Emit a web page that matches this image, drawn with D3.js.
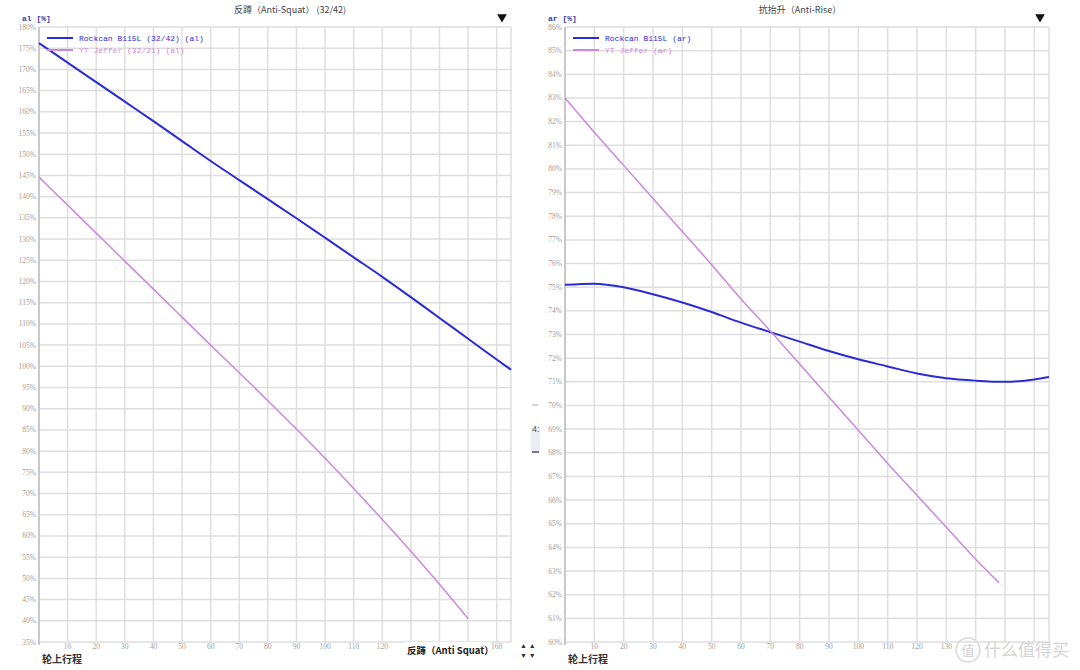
<!DOCTYPE html>
<html>
<head>
<meta charset="utf-8">
<script src="https://cdn.jsdelivr.net/npm/d3@7"></script>
<style>
  body { margin: 0; background: #fff; }
  svg { display: block; }
</style>
</head>
<body>
<div id="chart"></div>
<script>
// wheel travel (mm)
const travelRockcan = [0, 10, 20, 30, 40, 50, 60, 70, 80, 90, 100, 110, 120, 130, 140, 150, 160, 165];
const travelJefferAl = [0, 10, 20, 30, 40, 50, 60, 70, 80, 90, 100, 110, 120, 130, 140, 150];
const travelJefferAr = [0, 10, 20, 30, 40, 50, 60, 70, 80, 90, 100, 110, 120, 130, 140, 148];

// anti-squat (%)
const alRockcan = [176.2, 171.6, 167.0, 162.4, 157.8, 153.1, 148.4, 143.9, 139.4, 134.9, 130.3, 125.7, 121.1, 116.3, 111.4, 106.5, 101.6, 99.2];
const alJeffer = [144.6, 138.0, 131.4, 124.8, 118.2, 111.6, 105.0, 98.5, 91.9, 85.2, 78.3, 71.2, 63.9, 56.4, 48.6, 40.5];

// anti-rise (%)
const arRockcan = [75.1, 75.15, 75.0, 74.7, 74.35, 73.95, 73.5, 73.1, 72.7, 72.3, 71.95, 71.65, 71.35, 71.15, 71.05, 71.0, 71.1, 71.2];
const arJeffer = [83.0, 81.55, 80.15, 78.75, 77.35, 75.95, 74.5, 73.15, 71.75, 70.35, 68.95, 67.55, 66.2, 64.85, 63.5, 62.5];

const xTicks = d3.range(10, 161, 10);
const alTicks = d3.range(35, 181, 5);
const arTicks = d3.range(60, 87, 1);

const W = 1080, H = 670;
const blue = "#2b2bd6", pink = "#cc88dd";

const svg = d3.select("#chart").append("svg")
    .attr("width", W)
    .attr("height", H);

function drawPanel(p) {
    const x = d3.scaleLinear().domain([0, 165]).range([p.left, p.right]);
    const y = d3.scaleLinear().domain(p.yDomain).range([642, 27]);
    const g = svg.append("g");

    // grid
    g.selectAll(".hg").data(p.yTicks).enter().append("line")
        .attr("x1", p.left).attr("x2", p.right)
        .attr("y1", d => y(d)).attr("y2", d => y(d))
        .attr("stroke", "#dedede").attr("stroke-width", 1.5);
    g.selectAll(".vg").data(xTicks.concat([165])).enter().append("line")
        .attr("x1", d => x(d)).attr("x2", d => x(d))
        .attr("y1", 27).attr("y2", 642)
        .attr("stroke", "#dedede").attr("stroke-width", 1.5);
    g.append("line")
        .attr("x1", p.left).attr("x2", p.left).attr("y1", 27).attr("y2", 645)
        .attr("stroke", "#c8c8c8").attr("stroke-width", 2);

    // y tick labels
    g.selectAll(".yl").data(p.yTicks).enter().append("text")
        .attr("x", p.left - 3).attr("y", d => y(d) + 2.5)
        .attr("text-anchor", "end")
        .attr("font-family", "Liberation Serif").attr("font-size", 7.5)
        .attr("fill", "#a0a0a0")
        .text(d => d + "%");
    // x tick labels (some are covered in the original)
    g.selectAll(".xl").data(xTicks.filter(d => !p.hideX.includes(d))).enter().append("text")
        .attr("x", d => x(d)).attr("y", 649)
        .attr("text-anchor", "middle")
        .attr("font-family", "Liberation Serif").attr("font-size", 7.5)
        .attr("fill", "#a0a0a0")
        .text(d => d);

    const line = d3.line().curve(d3.curveMonotoneX).x(d => x(d[0])).y(d => y(d[1]));
    p.series.forEach(s => {
        g.append("path")
            .datum(d3.zip(s.x, s.y))
            .attr("fill", "none")
            .attr("stroke", s.color)
            .attr("stroke-width", s.width)
            .attr("d", line);
    });

    // legend
    p.series.forEach((s, i) => {
        const ly = 38 + i * 12;
        g.append("line")
            .attr("x1", p.left + 8).attr("x2", p.left + 34)
            .attr("y1", ly).attr("y2", ly)
            .attr("stroke", s.color).attr("stroke-width", 2);
        g.append("text")
            .attr("x", p.left + 40).attr("y", ly + 3)
            .attr("font-family", "Liberation Mono").attr("font-size", 8)
            .attr("fill", s.color)
            .text(s.name);
    });

    // titles
    g.append("text")
        .attr("x", p.titleX).attr("y", 13)
        .attr("text-anchor", "middle")
        .attr("font-family", "Noto Sans CJK SC").attr("font-size", 9)
        .attr("fill", "#444")
        .text(p.title);
    g.append("text")
        .attr("x", p.left - 17).attr("y", 21)
        .attr("font-family", "Liberation Mono").attr("font-size", 8)
        .attr("font-weight", "bold")
        .attr("fill", "#3a3a9a")
        .text(p.yLabel);
    g.append("path")
        .attr("d", d3.symbol(d3.symbolTriangle, 40)())
        .attr("transform", `translate(${p.right - 9},17) rotate(180)`)
        .attr("fill", "#111");
    g.append("text")
        .attr("x", p.left + 3).attr("y", 663)
        .attr("font-family", "Noto Sans CJK SC").attr("font-size", 10)
        .attr("font-weight", "bold")
        .attr("fill", "#333")
        .text("轮上行程");
}

drawPanel({
    left: 39, right: 511, yDomain: [35, 180], yTicks: alTicks, hideX: [130, 140, 150],
    title: "反蹲（Anti-Squat） (32/42)", titleX: 290, yLabel: "al [%]",
    series: [
        { name: "Rockcan B115L (32/42) (al)", x: travelRockcan, y: alRockcan, color: blue, width: 2 },
        { name: "YT Jeffer (32/21) (al)", x: travelJefferAl, y: alJeffer, color: pink, width: 1.5 }
    ]
});

drawPanel({
    left: 565, right: 1049, yDomain: [60, 86], yTicks: arTicks, hideX: [140, 150, 160],
    title: "抗抬升（Anti-Rise）", titleX: 800, yLabel: "ar [%]",
    series: [
        { name: "Rockcan B115L (ar)", x: travelRockcan, y: arRockcan, color: blue, width: 2 },
        { name: "YT Jeffer (ar)", x: travelJefferAr, y: arJeffer, color: pink, width: 1.5 }
    ]
});

// x axis caption on the left panel
svg.append("rect").attr("x", 405).attr("y", 642).attr("width", 86).attr("height", 15).attr("fill", "#fff");
svg.append("text")
    .attr("x", 407).attr("y", 654)
    .attr("font-family", "Noto Sans CJK SC").attr("font-size", 9.5)
    .attr("font-weight", "bold")
    .attr("fill", "#222")
    .text("反蹲（Anti Squat）");
svg.append("text").attr("x", 520).attr("y", 648)
    .attr("font-size", 7).attr("fill", "#333").text("▲ ▲");
svg.append("text").attr("x", 520).attr("y", 658)
    .attr("font-size", 7).attr("fill", "#333").text("▼ ▼");

// scroll-bar remnant between panels
svg.append("line").attr("x1", 532).attr("x2", 538).attr("y1", 405).attr("y2", 405).attr("stroke", "#aaa");
svg.append("rect").attr("x", 531).attr("y", 428).attr("width", 9).attr("height", 25).attr("fill", "#ececf6");
svg.append("text").attr("x", 532).attr("y", 432).attr("font-family", "Liberation Sans")
    .attr("font-size", 9).attr("fill", "#555").text("4:");
svg.append("line").attr("x1", 532).attr("x2", 539).attr("y1", 452).attr("y2", 452).attr("stroke", "#555").attr("stroke-width", 1.5);

// watermark
svg.append("circle").attr("cx", 968).attr("cy", 650).attr("r", 12)
    .attr("fill", "none").attr("stroke", "#d8d8d8").attr("stroke-width", 1.5);
svg.append("text").attr("x", 968).attr("y", 655).attr("text-anchor", "middle")
    .attr("font-family", "Noto Sans CJK SC").attr("font-size", 13).attr("fill", "#d0d0d0").text("值");
svg.append("text").attr("x", 984).attr("y", 656)
    .attr("font-family", "Noto Sans CJK SC").attr("font-size", 17).attr("fill", "#d4d4d4").text("什么值得买");
</script>
</body>
</html>
